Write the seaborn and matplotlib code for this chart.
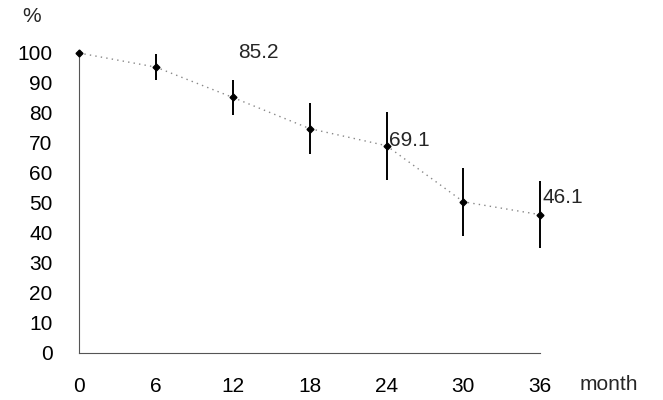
import matplotlib
matplotlib.use("Agg")
import matplotlib.pyplot as plt
import seaborn as sns
import pandas as pd

months = [0, 6, 12, 18, 24, 30, 36]
survival = [100, 95.3, 85.2, 74.8, 69.1, 50.4, 46.1]
err = [0, 4.3, 5.7, 8.5, 11.3, 11.3, 11.2]
labeled_months = [12, 24, 36]
labels = ["85.2", "69.1", "46.1"]
yticks = list(range(0, 101, 10))

sns.set_style("white")
plt.rcParams['font.family'] = ['Liberation Sans', 'DejaVu Sans']
FS = 15

df = pd.DataFrame({"month": months, "pct": survival, "err": err})

fig = plt.figure(figsize=(6.63, 4.0), dpi=100)
ax = fig.add_axes([0.119, 0.1175, 0.696, 0.75])

sns.lineplot(data=df, x="month", y="pct", ax=ax, color="#888888",
             linestyle=(0, (1, 3)), linewidth=1.0, clip_on=False)
ax.errorbar(df["month"], df["pct"], yerr=df["err"], fmt="D", color="black",
            markersize=3.5, elinewidth=1.4, capsize=0, clip_on=False, zorder=5)

for m, lab in zip(labeled_months, labels):
    v = survival[months.index(m)]
    offs = {12: (0.4, 14.8), 24: (0.2, 1.8), 36: (0.2, 5.6)}[m]
    ax.text(m + offs[0], v + offs[1], lab, fontsize=FS, ha="left", va="center")

ax.set_xlim(0, 36)
ax.set_ylim(0, 100)
ax.set_xticks(months)
ax.set_yticks(yticks)
ax.set_xlabel("")
ax.set_ylabel("")
for s in ["top", "right"]:
    ax.spines[s].set_visible(False)
for s in ["left", "bottom"]:
    ax.spines[s].set_color("#555555")
    ax.spines[s].set_linewidth(0.8)
ax.tick_params(axis="both", direction="in", length=6, width=0.8, color="#555555",
               labelsize=FS, labelcolor="black")
ax.tick_params(axis="y", pad=19)
ax.tick_params(axis="x", pad=17)

fig.text(22 / 663, 1 - 17 / 400, "%", fontsize=FS, ha="left", va="center")
fig.text(580 / 663, 1 - 384 / 400, "month", fontsize=FS, ha="left", va="center")

fig.savefig("out.png", dpi=100)
